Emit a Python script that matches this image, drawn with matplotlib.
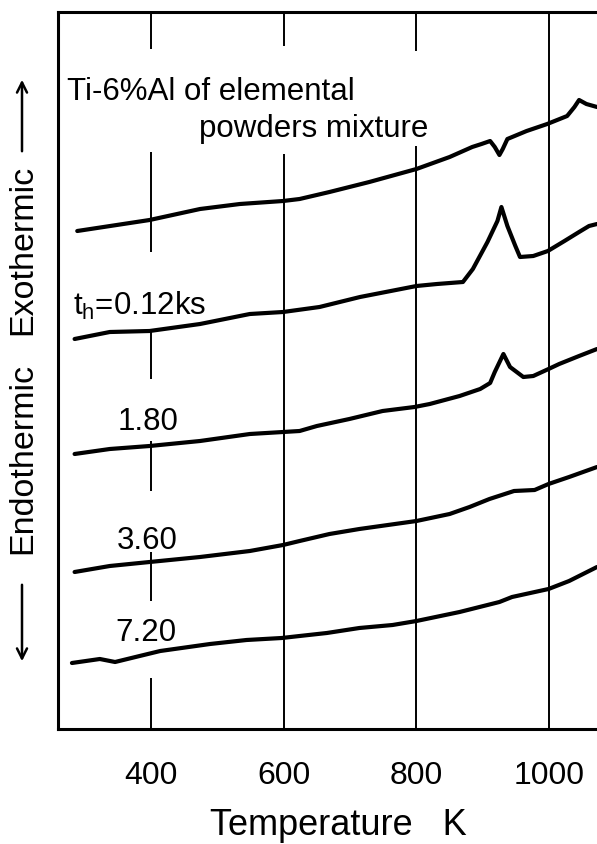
import matplotlib
matplotlib.use("Agg")
import matplotlib.pyplot as plt
from matplotlib.patches import FancyArrowPatch

plt.rcParams['font.family'] = ['Liberation Sans', 'DejaVu Sans']
plt.rcParams['mathtext.fontset'] = 'custom'
plt.rcParams['mathtext.rm'] = 'Liberation Sans'

# DSC traces, temperature in K, signal in arbitrary units
temp_mix = [289, 398, 474, 534, 599, 624, 669, 729, 800, 850, 884, 898, 911, 918, 925, 930, 937, 966, 997, 1027, 1038, 1045, 1056, 1072]
sig_mix = [498, 509, 520, 525, 528, 530, 537, 547, 560, 572, 582, 585, 588, 582, 574, 580, 590, 598, 605, 613, 622, 629, 625, 622]

temp_012 = [285, 338, 398, 474, 549, 599, 654, 715, 800, 831, 870, 885, 907, 922, 928, 937, 949, 956, 976, 998, 1023, 1045, 1060, 1072]
sig_012 = [390, 397, 398, 405, 415, 417, 422, 432, 443, 445, 447, 460, 487, 508, 522, 503, 483, 472, 473, 478, 488, 497, 503, 505]

temp_180 = [285, 338, 398, 474, 549, 599, 624, 650, 699, 749, 797, 820, 865, 896, 911, 918, 931, 941, 961, 976, 999, 1015, 1045, 1072]
sig_180 = [275, 280, 283, 288, 295, 297, 298, 303, 310, 318, 322, 325, 333, 340, 346, 357, 375, 362, 352, 353, 360, 365, 373, 380]

temp_360 = [285, 338, 398, 474, 549, 599, 624, 669, 714, 800, 850, 880, 910, 947, 978, 999, 1030, 1072]
sig_360 = [157, 163, 167, 172, 178, 184, 188, 195, 200, 208, 215, 222, 230, 238, 239, 245, 252, 262]

temp_720 = [281, 323, 346, 383, 414, 489, 544, 597, 624, 665, 714, 764, 800, 865, 925, 944, 999, 1030, 1072]
sig_720 = [66, 70, 67, 73, 78, 85, 89, 91, 93, 96, 101, 104, 108, 117, 127, 132, 140, 148, 162]

xticks = [400, 600, 800, 1000]
# vertical guide lines, broken where labels sit (signal units)
grid_400 = [(680, 717), (477, 577), (350, 400), (238, 288), (128, 177), (0, 51)]
grid_600 = [(683, 717), (0, 575)]
grid_800 = [(678, 717), (0, 583)]
grid_1000 = [(0, 717)]

fig = plt.figure(figsize=(5.97, 8.45), dpi=100)
ax = fig.add_axes([58 / 597, 115 / 845, 539 / 597, 717 / 845])

for xv, segs in zip(xticks, [grid_400, grid_600, grid_800, grid_1000]):
    for lo, hi in segs:
        ax.vlines(xv, lo, hi, color='black', lw=1.4)

for t, s in [(temp_mix, sig_mix), (temp_012, sig_012), (temp_180, sig_180),
             (temp_360, sig_360), (temp_720, sig_720)]:
    ax.plot(t, s, color='black', lw=3.0, solid_capstyle='round', solid_joinstyle='round')

ax.set_xlim(260, 1072)
ax.set_ylim(0, 717)
ax.set_xticks(xticks)
ax.set_yticks([])
ax.tick_params(axis='x', length=0, pad=22, labelsize=23)
for side in ['left', 'top', 'bottom']:
    ax.spines[side].set_linewidth(2.2)
ax.spines['right'].set_visible(False)

fs = 22.5
ax.text(273, 630, 'Ti-6%Al of elemental', fontsize=fs, va='baseline', ha='left')
ax.text(818, 593, 'powders mixture', fontsize=fs, va='baseline', ha='right')
ax.text(282, 415, r't$_\mathrm{h}$=0.12ks', fontsize=fs, va='baseline', ha='left')
ax.text(350, 300, '1.80', fontsize=fs, va='baseline', ha='left')
ax.text(349, 181, '3.60', fontsize=fs, va='baseline', ha='left')
ax.text(346, 89, '7.20', fontsize=fs, va='baseline', ha='left')

fig.text(338 / 597, 10 / 845, 'Temperature   K', fontsize=26, ha='center', va='baseline')

# side labels with arrows
fig.text(23 / 597, 1 - 250 / 845, 'Exothermic', fontsize=24.5, rotation=90,
         ha='center', va='center')
fig.text(23 / 597, 1 - 458 / 845, 'Endothermic', fontsize=24.5, rotation=90,
         ha='center', va='center')
fig.add_artist(FancyArrowPatch(
    (22 / 597, 1 - 155 / 845), (22 / 597, 1 - 78 / 845), transform=fig.transFigure,
    arrowstyle='->', mutation_scale=18, lw=1.8, color='black'))
fig.add_artist(FancyArrowPatch(
    (22 / 597, 1 - 583 / 845), (22 / 597, 1 - 665 / 845), transform=fig.transFigure,
    arrowstyle='->', mutation_scale=18, lw=1.8, color='black'))

fig.savefig('out.png', dpi=100)
